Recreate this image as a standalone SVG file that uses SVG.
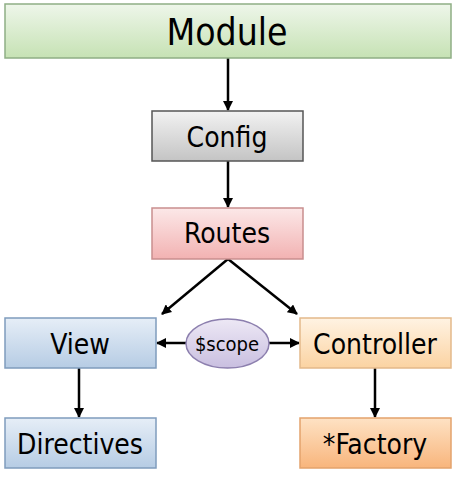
<svg xmlns="http://www.w3.org/2000/svg" width="455" height="478" viewBox="0 0 455 478">
<defs>
<linearGradient id="gGreen" x1="0" y1="0" x2="0" y2="1"><stop offset="0" stop-color="#eef6ea"/><stop offset="1" stop-color="#c6e2b4"/></linearGradient>
<linearGradient id="gGray" x1="0" y1="0" x2="0" y2="1"><stop offset="0" stop-color="#f2f2f2"/><stop offset="1" stop-color="#c4c4c4"/></linearGradient>
<linearGradient id="gPink" x1="0" y1="0" x2="0" y2="1"><stop offset="0" stop-color="#fce8e8"/><stop offset="1" stop-color="#f2b2b2"/></linearGradient>
<linearGradient id="gBlue" x1="0" y1="0" x2="0" y2="1"><stop offset="0" stop-color="#e6eef7"/><stop offset="1" stop-color="#b6cce4"/></linearGradient>
<linearGradient id="gOrange" x1="0" y1="0" x2="0" y2="1"><stop offset="0" stop-color="#fff3e3"/><stop offset="1" stop-color="#fbd3a2"/></linearGradient>
<linearGradient id="gOrange2" x1="0" y1="0" x2="0" y2="1"><stop offset="0" stop-color="#fee2c4"/><stop offset="1" stop-color="#f8b57c"/></linearGradient>
<linearGradient id="gPurple" x1="0" y1="0" x2="0" y2="1"><stop offset="0" stop-color="#ede8f5"/><stop offset="1" stop-color="#c9bfe0"/></linearGradient>
<marker id="arr" viewBox="0 0 10 10" refX="9" refY="5" markerWidth="4" markerHeight="4" orient="auto" markerUnits="strokeWidth"><path d="M0,0 L10,5 L0,10 z" fill="#000"/></marker>
</defs>
<style>
text{font-family:"DejaVu Sans Condensed","DejaVu Sans",sans-serif;fill:#000;text-anchor:middle}
.t{font-size:28px}
.c{stroke:#000;stroke-width:2.5;fill:none;marker-end:url(#arr)}
</style>
<g id="connectors">
<line class="c" x1="228" y1="58" x2="228" y2="110"/>
<line class="c" x1="228" y1="161" x2="228" y2="207"/>
<line class="c" x1="228" y1="259" x2="162" y2="314"/>
<line class="c" x1="228" y1="259" x2="297" y2="314"/>
<line class="c" x1="186" y1="343" x2="157" y2="343"/>
<line class="c" x1="269" y1="343" x2="299" y2="343"/>
<line class="c" x1="79" y1="368" x2="79" y2="417"/>
<line class="c" x1="375" y1="368" x2="375" y2="417"/>
</g>
<g id="module"><rect x="5" y="4" width="446" height="54" fill="url(#gGreen)" stroke="#8fae85" stroke-width="1.5"/><text x="227" y="45" style="font-size:37px">Module</text></g>
<g id="config"><rect x="152" y="111" width="151" height="50" fill="url(#gGray)" stroke="#555" stroke-width="1.5"/><text class="t" x="227" y="147">Config</text></g>
<g id="routes"><rect x="152" y="208" width="151" height="51" fill="url(#gPink)" stroke="#c98e8e" stroke-width="1.5"/><text class="t" x="227" y="243">Routes</text></g>
<g id="view"><rect x="5" y="318" width="151" height="50" fill="url(#gBlue)" stroke="#7f9cbd" stroke-width="1.5"/><text class="t" x="80" y="354">View</text></g>
<g id="scope"><ellipse cx="227.5" cy="343.5" rx="41.5" ry="24.5" fill="url(#gPurple)" stroke="#8c7fae" stroke-width="1.5"/><text x="227" y="351" style="font-size:20px">$scope</text></g>
<g id="controller"><rect x="300" y="318" width="151" height="50" fill="url(#gOrange)" stroke="#e3b98a" stroke-width="1.5"/><text class="t" x="375" y="354">Controller</text></g>
<g id="directives"><rect x="5" y="418" width="151" height="50" fill="url(#gBlue)" stroke="#7f9cbd" stroke-width="1.5"/><text class="t" x="80" y="454">Directives</text></g>
<g id="factory"><rect x="300" y="418" width="151" height="50" fill="url(#gOrange2)" stroke="#e3a36c" stroke-width="1.5"/><text class="t" x="375" y="454">*Factory</text></g>
</svg>
